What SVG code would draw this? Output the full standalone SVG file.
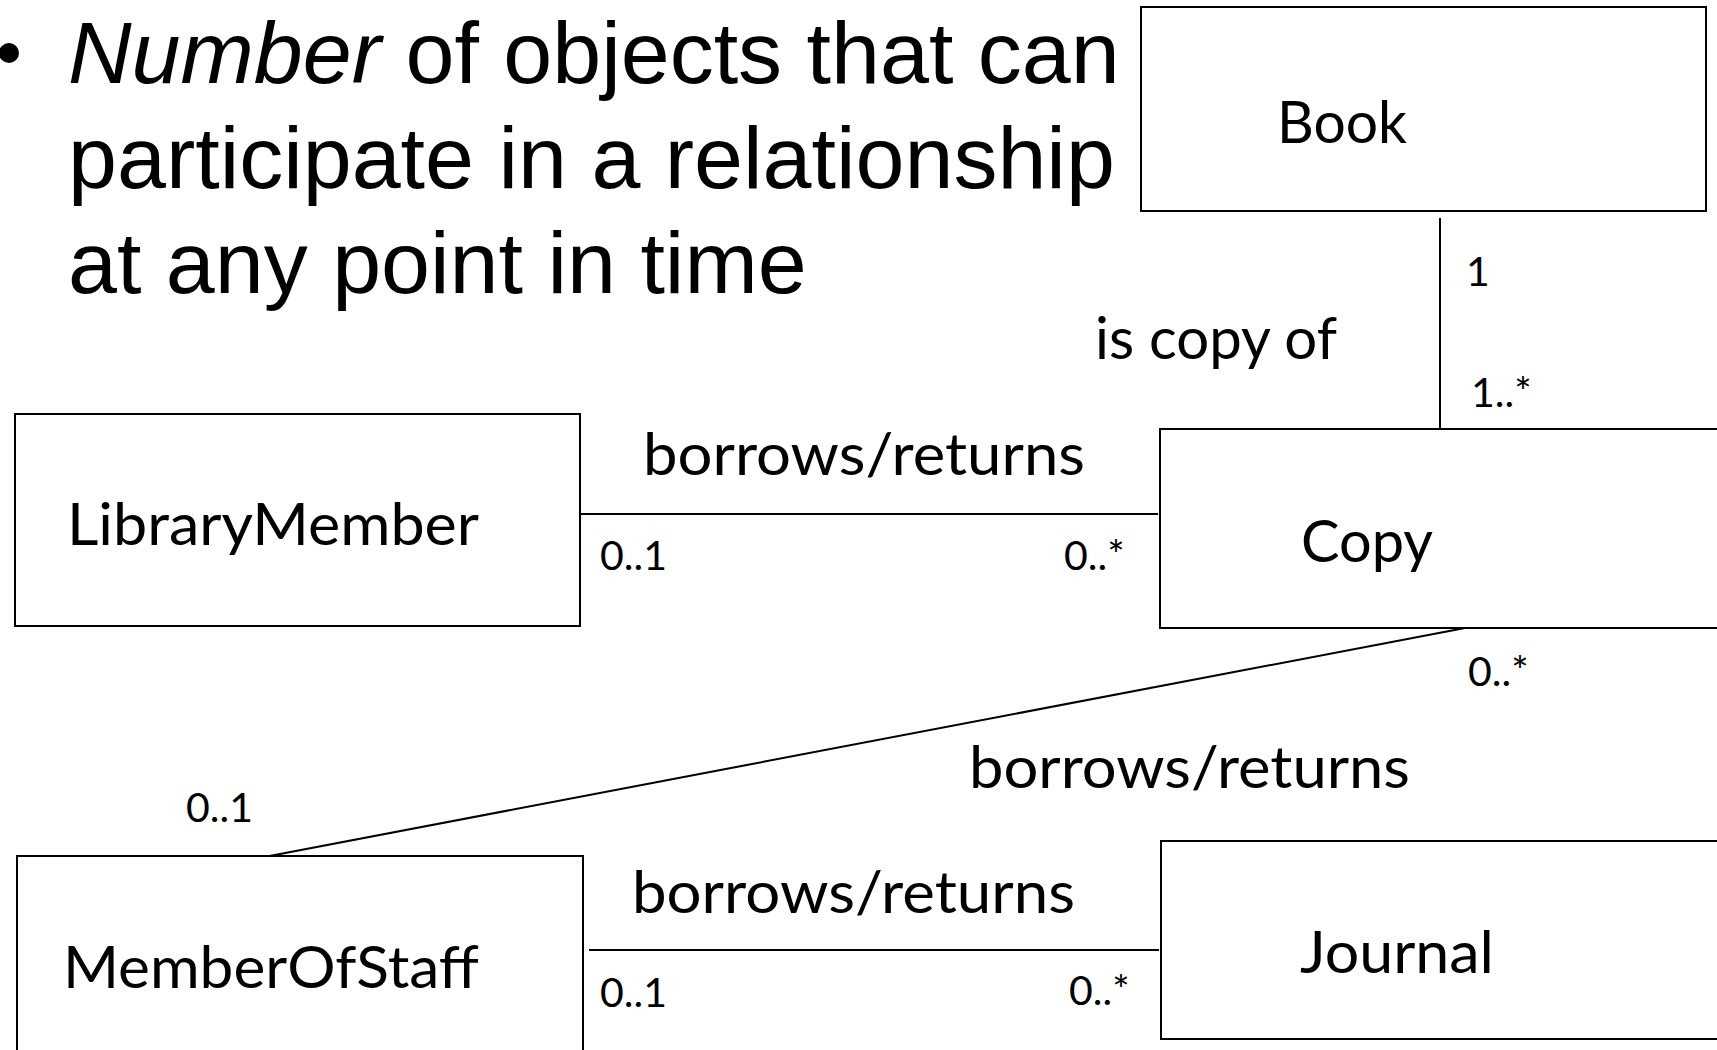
<svg xmlns="http://www.w3.org/2000/svg" width="1717" height="1050" viewBox="0 0 1717 1050">
<style>
.box{fill:#fff;stroke:#000;stroke-width:2}
.conn{stroke:#000;stroke-width:2;fill:none}
.title{font-family:"Liberation Sans",Arial,sans-serif;font-size:88px;fill:#000}
.name{font-family:Lato,"Open Sans",sans-serif;font-size:58px;fill:#000}
.lbl{font-family:Lato,"Open Sans",sans-serif;font-size:58px;fill:#000}
.mult{font-family:Lato,"Open Sans",sans-serif;font-size:41px;fill:#000}
</style>
<rect width="1717" height="1050" fill="#fff"/>
<g id="title">
<circle cx="9" cy="53" r="10" fill="#000"/>
<text class="title" x="68" y="83"><tspan font-style="italic">Number</tspan> of objects that can</text>
<text class="title" x="68" y="188">participate in a relationship</text>
<text class="title" x="68" y="293">at any point in time</text>
</g>
<g id="connectors">
<line class="conn" x1="1440" y1="218" x2="1440" y2="429"/>
<line class="conn" x1="580" y1="514" x2="1158" y2="514"/>
<line class="conn" x1="1465" y1="628" x2="259" y2="858"/>
<line class="conn" x1="589" y1="950" x2="1159" y2="950"/>
<text class="lbl" x="1095" y="359" textLength="242" lengthAdjust="spacingAndGlyphs">is copy of</text>
<text class="mult" x="1466" y="286">1</text>
<text class="mult" x="1471" y="407">1..*</text>
<text class="lbl" x="643" y="475" textLength="442" lengthAdjust="spacingAndGlyphs">borrows/returns</text>
<text class="mult" x="600" y="570">0..1</text>
<text class="mult" x="1064" y="570">0..*</text>
<text class="mult" x="1468" y="686">0..*</text>
<text class="lbl" x="969" y="788" textLength="441" lengthAdjust="spacingAndGlyphs">borrows/returns</text>
<text class="mult" x="186" y="822">0..1</text>
<text class="lbl" x="632" y="913" textLength="443" lengthAdjust="spacingAndGlyphs">borrows/returns</text>
<text class="mult" x="600" y="1007">0..1</text>
<text class="mult" x="1069" y="1005">0..*</text>
</g>
<g id="book">
<rect class="box" x="1141" y="7" width="565" height="204"/>
<text class="name" x="1277" y="143" textLength="130" lengthAdjust="spacingAndGlyphs">Book</text>
</g>
<g id="librarymember">
<rect class="box" x="15" y="414" width="565" height="212"/>
<text class="name" x="67" y="545" textLength="412" lengthAdjust="spacingAndGlyphs">LibraryMember</text>
</g>
<g id="copy">
<rect class="box" x="1160" y="429" width="600" height="199"/>
<text class="name" x="1301" y="562" textLength="132" lengthAdjust="spacingAndGlyphs">Copy</text>
</g>
<g id="memberofstaff">
<rect class="box" x="17" y="856" width="566" height="250"/>
<text class="name" x="63" y="988" textLength="416" lengthAdjust="spacingAndGlyphs">MemberOfStaff</text>
</g>
<g id="journal">
<rect class="box" x="1161" y="841" width="600" height="198"/>
<text class="name" x="1300" y="973" textLength="194" lengthAdjust="spacingAndGlyphs">Journal</text>
</g>
</svg>
